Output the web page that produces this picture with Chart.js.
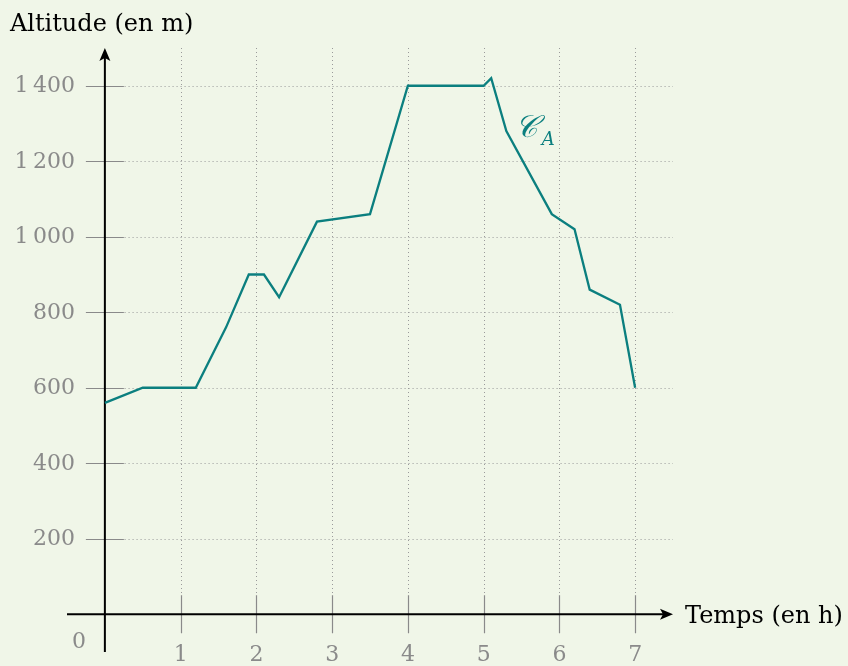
<!DOCTYPE html>
<html>
<head>
<meta charset="utf-8">
<script src="https://cdn.jsdelivr.net/npm/chart.js@4"></script>
<style>
  html, body { margin: 0; padding: 0; background: #f0f6e8; }
  #wrap { width: 848px; height: 666px; }
</style>
</head>
<body>
<div id="wrap"><canvas id="c" width="848" height="666"></canvas></div>
<script>
// ---- Data ----
const times = [0, 0.5, 1.2, 1.6, 1.9, 2.1, 2.3, 2.8, 3.5, 4, 5, 5.1, 5.3, 5.9, 6.2, 6.4, 6.8, 7];
const altitudes = [560, 600, 600, 760, 900, 900, 840, 1040, 1060, 1400, 1400, 1420, 1280, 1060, 1020, 860, 820, 600];
const xTicks = [1, 2, 3, 4, 5, 6, 7];
const xTickLabels = ['1', '2', '3', '4', '5', '6', '7'];
const yTicks = [200, 400, 600, 800, 1000, 1200, 1400];
const yTickLabels = ['200', '400', '600', '800', '1\u2009000', '1\u2009200', '1\u2009400'];
const xTitle = 'Temps (en h)';
const yTitle = 'Altitude (en m)';
const curveName = '𝒞';
const curveSub = 'A';

const TEAL = '#0b7f7f';
const GRAY = '#8a8a8a';
const FONT = '"DejaVu Serif", "Liberation Serif", serif';

const axesPlugin = {
  id: 'axesPlugin',
  beforeDraw(chart) {
    const ctx = chart.ctx;
    ctx.save();
    ctx.fillStyle = '#f0f6e8';
    ctx.fillRect(0, 0, chart.width, chart.height);
    ctx.restore();
  },
  beforeDatasetsDraw(chart) {
    const ctx = chart.ctx;
    const xs = chart.scales.x, ys = chart.scales.y;
    const X = v => xs.getPixelForValue(v);
    const Y = v => ys.getPixelForValue(v);
    ctx.save();
    // dotted grid
    ctx.strokeStyle = '#9a9a9a';
    ctx.lineWidth = 1;
    ctx.setLineDash([1, 3]);
    xTicks.forEach(t => {
      ctx.beginPath();
      ctx.moveTo(Math.round(X(t)) + 0.5, Y(1500));
      ctx.lineTo(Math.round(X(t)) + 0.5, Y(52));
      ctx.stroke();
    });
    yTicks.forEach(t => {
      ctx.beginPath();
      ctx.moveTo(X(0.26), Math.round(Y(t)) + 0.5);
      ctx.lineTo(X(7.5), Math.round(Y(t)) + 0.5);
      ctx.stroke();
    });
    ctx.setLineDash([]);
    // ticks
    ctx.strokeStyle = GRAY;
    ctx.lineWidth = 1.2;
    xTicks.forEach(t => {
      ctx.beginPath();
      ctx.moveTo(Math.round(X(t)) + 0.5, Y(0) - 19);
      ctx.lineTo(Math.round(X(t)) + 0.5, Y(0) + 19);
      ctx.stroke();
    });
    yTicks.forEach(t => {
      ctx.beginPath();
      ctx.moveTo(X(0) - 19, Math.round(Y(t)) + 0.5);
      ctx.lineTo(X(0) + 19, Math.round(Y(t)) + 0.5);
      ctx.stroke();
    });
    // axes
    ctx.strokeStyle = '#000';
    ctx.fillStyle = '#000';
    ctx.lineWidth = 2;
    const ox = X(0), oy = Y(0);
    ctx.beginPath();
    ctx.moveTo(X(-0.5), oy);
    ctx.lineTo(X(7.5) - 8, oy);
    ctx.stroke();
    ctx.beginPath();
    ctx.moveTo(ox, Y(-100));
    ctx.lineTo(ox, Y(1500) + 8);
    ctx.stroke();
    // arrowheads
    const tipX = X(7.5);
    ctx.beginPath();
    ctx.moveTo(tipX, oy);
    ctx.lineTo(tipX - 13, oy - 5.5);
    ctx.lineTo(tipX - 10, oy);
    ctx.lineTo(tipX - 13, oy + 5.5);
    ctx.closePath();
    ctx.fill();
    const tipY = Y(1500);
    ctx.beginPath();
    ctx.moveTo(ox, tipY);
    ctx.lineTo(ox - 5.5, tipY + 13);
    ctx.lineTo(ox, tipY + 10);
    ctx.lineTo(ox + 5.5, tipY + 13);
    ctx.closePath();
    ctx.fill();
    // tick labels
    ctx.fillStyle = GRAY;
    ctx.font = '22px ' + FONT;
    ctx.textAlign = 'center';
    ctx.textBaseline = 'middle';
    xTicks.forEach((t, i) => ctx.fillText(xTickLabels[i], X(t), oy + 41));
    ctx.fillText('0', ox - 26, oy + 28);
    ctx.textAlign = 'right';
    yTicks.forEach((t, i) => ctx.fillText(yTickLabels[i], ox - 30, Y(t) + 1));
    // axis titles
    ctx.fillStyle = '#000';
    ctx.font = '24px ' + FONT;
    ctx.textAlign = 'left';
    ctx.textBaseline = 'alphabetic';
    ctx.fillText(yTitle, ox - 95, tipY - 17);
    ctx.fillText(xTitle, tipX + 12, oy + 9);
    // curve name
    ctx.fillStyle = TEAL;
    ctx.font = 'italic 31px ' + FONT;
    ctx.fillText(curveName, X(5.41), Y(1265));
    ctx.font = 'italic 18px ' + FONT;
    ctx.fillText(curveSub, X(5.41) + 27, Y(1243));
    ctx.restore();
  }
};

new Chart(document.getElementById('c'), {
  type: 'line',
  data: {
    datasets: [{
      data: times.map((t, i) => ({ x: t, y: altitudes[i] })),
      borderColor: TEAL,
      borderWidth: 2.3,
      pointRadius: 0,
      tension: 0,
      fill: false
    }]
  },
  options: {
    responsive: false,
    animation: false,
    layout: { padding: { left: 67, right: 175, top: 48, bottom: 14 } },
    plugins: { legend: { display: false }, tooltip: { enabled: false } },
    scales: {
      x: { type: 'linear', min: -0.5, max: 7.5, display: false },
      y: { type: 'linear', min: -100, max: 1500, display: false }
    }
  },
  plugins: [axesPlugin]
});
</script>
</body>
</html>
